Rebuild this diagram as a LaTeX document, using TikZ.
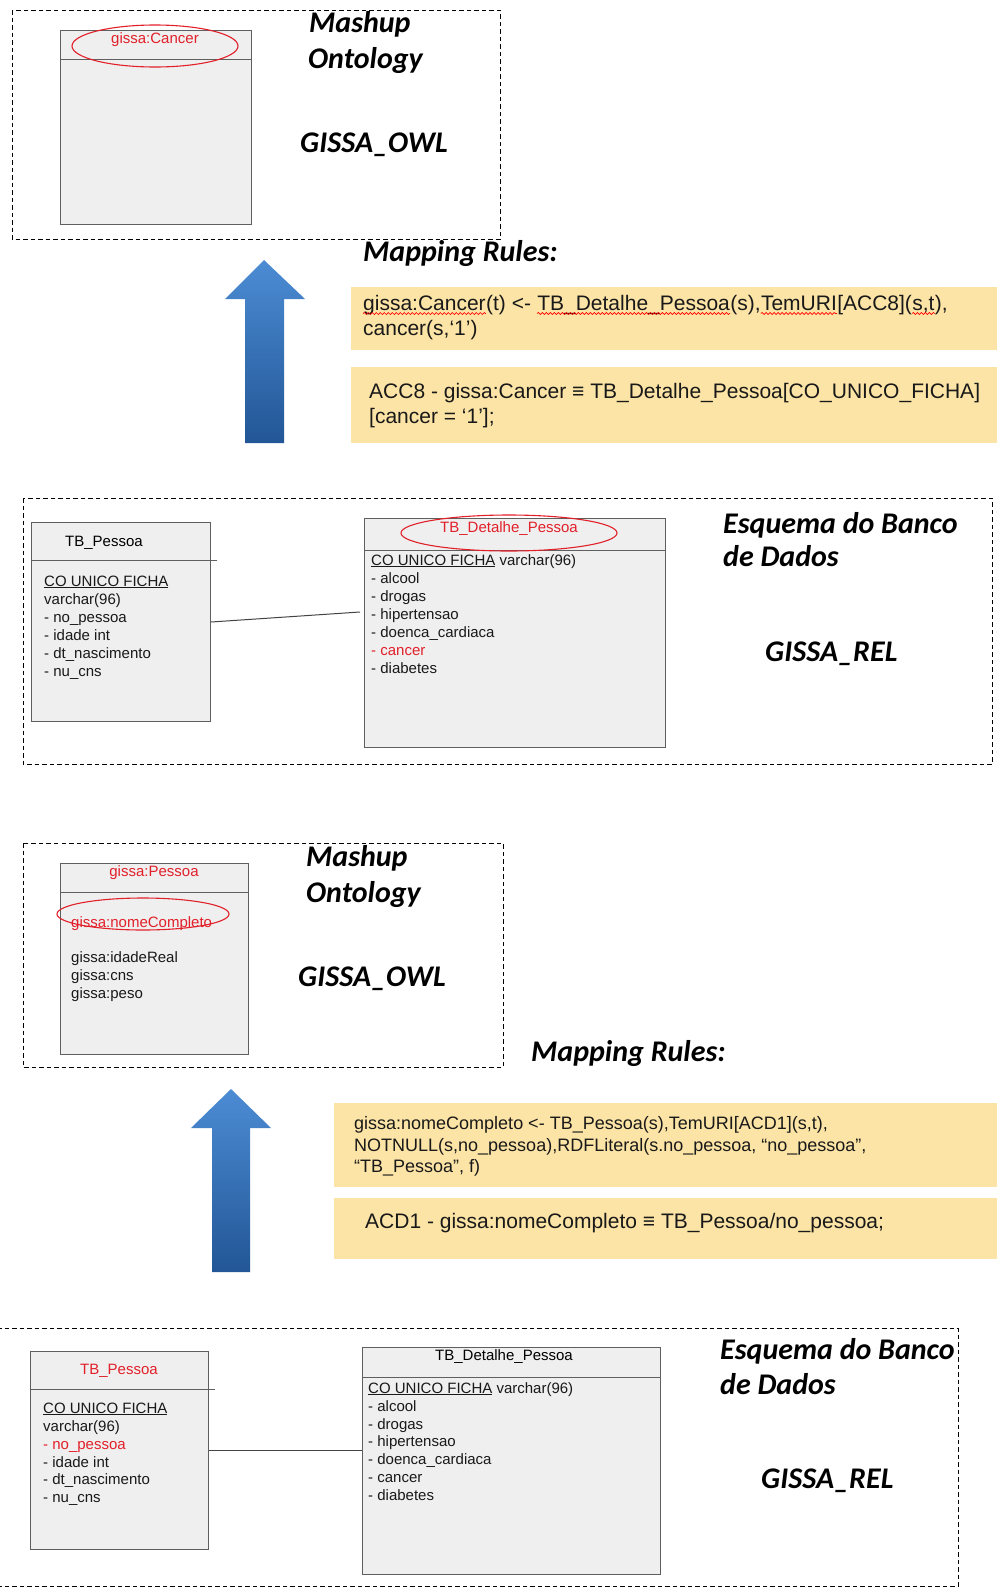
\documentclass[tikz,border=0pt]{standalone}
\usepackage{fontspec}
\setmainfont{Liberation Sans}
\newfontfamily\calfont{Carlito}
\usetikzlibrary{shapes.geometric,decorations.pathmorphing}
\definecolor{boxfill}{RGB}{239,239,239}
\definecolor{boxline}{RGB}{95,95,95}
\definecolor{redtxt}{RGB}{226,32,42}
\definecolor{ruleyellow}{RGB}{252,228,166}
\definecolor{arrtop}{RGB}{76,140,212}
\definecolor{arrbot}{RGB}{34,86,150}
\begin{document}
\begin{tikzpicture}[x=1pt,y=-1pt,
  umlbox/.style={draw=boxline, fill=boxfill, line width=1pt, inner sep=0, anchor=north west},
  sepline/.style={draw=boxline, line width=1pt},
  frame/.style={draw=black, line width=0.9pt, dash pattern=on 4.5pt off 3pt},
  redell/.style={ellipse, draw=redtxt, line width=1.1pt, inner sep=0},
  attr/.style={anchor=base west, inner sep=0, font=\fontsize{15}{18}\selectfont, text=black!90},
  ttl/.style={anchor=base, inner sep=0, font=\fontsize{15}{18}\selectfont},
  big/.style={anchor=base west, inner sep=0, font=\calfont\bfseries\itshape\fontsize{30}{36}\selectfont},
  rulea/.style={anchor=base west, inner sep=0, font=\fontsize{21}{25}\selectfont, text=black!90},
  ruleb/.style={anchor=base west, inner sep=0, font=\fontsize{18}{22}\selectfont, text=black!90},
  yellowbox/.style={fill=ruleyellow, draw=none, inner sep=0, anchor=north west},
  conn/.style={draw=boxline!70!black, line width=1pt},
  squig/.style={draw=red, line width=0.7pt, decorate, decoration={snake, amplitude=1pt, segment length=4pt}},
]
\useasboundingbox (0,0) rectangle (997,1588);

% ================= Section 1: Mashup Ontology (Cancer) =================
\draw[frame] (12,10) rectangle (500,239);
\node[umlbox, minimum width=191pt, minimum height=194pt] (o1) at (60,30) {};
\draw[sepline] (o1.west |- 0,59) -- (o1.east |- 0,59);
\node[ttl, text=redtxt] (o1t) at (155,43) {gissa:Cancer};
\node[redell, minimum width=166pt, minimum height=42pt] (o1e) at (155,46) {};
\node[big] (m1a) at (309,32) {Mashup};
\node[big] (m1b) at (308,68) {Ontology};
\node[big] (m1c) at (300,152) {GISSA\_OWL};

% Mapping rules 1
\node[big] (mr1) at (363,261) {Mapping Rules:};
\shade[top color=arrtop, bottom color=arrbot]
  (245,443) -- (245,299) -- (225,299) -- (264,260) -- (305,299) -- (284,299) -- (284,443) -- cycle;
\node[yellowbox, minimum width=646pt, minimum height=63pt] (y1) at (351,287) {};
\node[yellowbox, minimum width=646pt, minimum height=76pt] (y2) at (351,367) {};
\node[rulea] (y1a1) at (363,310) {gissa:Cancer};
\node[rulea] (y1a2) at (y1a1.base east) {(t)~<-~\null};
\node[rulea] (y1a3) at (y1a2.base east) {TB\_Detalhe\_Pessoa};
\node[rulea] (y1a4) at (y1a3.base east) {(s),};
\node[rulea] (y1a5) at (y1a4.base east) {TemURI};
\node[rulea] (y1a6) at (y1a5.base east) {[ACC8](};
\node[rulea] (y1a7) at (y1a6.base east) {s,t};
\node[rulea] (y1a8) at (y1a7.base east) {),};
\foreach \w in {y1a1,y1a3,y1a5,y1a7}
  \draw[squig] ([yshift=-3.5pt]\w.base west) -- ([yshift=-3.5pt]\w.base east);
\node[rulea] (y1b) at (363,335) {cancer(s,`1')};
\node[rulea] (y2a) at (369,398) {ACC8 - gissa:Cancer ≡ TB\_Detalhe\_Pessoa[CO\_UNICO\_FICHA]};
\node[rulea] (y2b) at (369,423) {[cancer = `1'];};

% ================= Section 2: Esquema do Banco (Cancer) =================
\draw[frame] (23,498) rectangle (992,764);
\node[umlbox, minimum width=179pt, minimum height=199pt] (p2) at (31,522) {};
\draw[sepline] (p2.west |- 0,560) -- (217,560);
\node[ttl] (p2t) at (104,546) {TB\_Pessoa};
\node[attr] (p2a1) at (44,586) {\underline{CO UNICO FICHA}};
\node[attr] (p2a2) at (44,604) {varchar(96)};
\node[attr] (p2a3) at (44,622) {- no\_pessoa};
\node[attr] (p2a4) at (44,640) {- idade int};
\node[attr] (p2a5) at (44,658) {- dt\_nascimento};
\node[attr] (p2a6) at (44,676) {- nu\_cns};

\node[umlbox, minimum width=301pt, minimum height=229pt] (d2) at (364,518) {};
\draw[sepline] (d2.west |- 0,550) -- (d2.east |- 0,550);
\node[ttl, text=redtxt] (d2t) at (509,532) {TB\_Detalhe\_Pessoa};
\node[redell, minimum width=216pt, minimum height=36pt] (d2e) at (509,533) {};
\node[attr] (d2a1) at (371,565) {\underline{CO UNICO FICHA} varchar(96)};
\node[attr] (d2a2) at (371,583) {- alcool};
\node[attr] (d2a3) at (371,601) {- drogas};
\node[attr] (d2a4) at (371,619) {- hipertensao};
\node[attr] (d2a5) at (371,637) {- doenca\_cardiaca};
\node[attr, text=redtxt] (d2a6) at (371,655) {- cancer};
\node[attr] (d2a7) at (371,673) {- diabetes};
\draw[conn] ([yshift=-100pt]p2.north east) -- ([xshift=-4pt,yshift=-94pt]d2.north west);

\node[big] (e2a) at (723,533) {Esquema do Banco};
\node[big] (e2b) at (723,566) {de Dados};
\node[big] (e2c) at (765,661) {GISSA\_REL};

% ================= Section 3: Mashup Ontology (Pessoa) =================
\draw[frame] (23,843) rectangle (503,1067);
\node[umlbox, minimum width=188pt, minimum height=191pt] (o3) at (60,863) {};
\draw[sepline] (o3.west |- 0,892) -- (o3.east |- 0,892);
\node[ttl, text=redtxt] (o3t) at (154,876) {gissa:Pessoa};
\node[attr, text=redtxt] (o3a1) at (71,927) {gissa:nomeCompleto};
\node[redell, minimum width=172pt, minimum height=32pt] (o3e) at (143,914) {};
\node[attr] (o3a2) at (71,962) {gissa:idadeReal};
\node[attr] (o3a3) at (71,980) {gissa:cns};
\node[attr] (o3a4) at (71,998) {gissa:peso};
\node[big] (m3a) at (306,866) {Mashup};
\node[big] (m3b) at (306,902) {Ontology};
\node[big] (m3c) at (298,986) {GISSA\_OWL};

% Mapping rules 2
\node[big] (mr2) at (531,1061) {Mapping Rules:};
\shade[top color=arrtop, bottom color=arrbot]
  (212,1272) -- (212,1128) -- (191,1128) -- (231,1089) -- (271,1128) -- (250,1128) -- (250,1272) -- cycle;
\node[yellowbox, minimum width=663pt, minimum height=84pt] (y3) at (334,1103) {};
\node[yellowbox, minimum width=663pt, minimum height=61pt] (y4) at (334,1198) {};
\node[ruleb] (y3a) at (354,1129) {gissa:nomeCompleto <- TB\_Pessoa(s),TemURI[ACD1](s,t),};
\node[ruleb] (y3b) at (354,1151) {NOTNULL(s,no\_pessoa),RDFLiteral(s.no\_pessoa, “no\_pessoa”,};
\node[ruleb] (y3c) at (354,1172) {“TB\_Pessoa”, f)};
\node[rulea] (y4a) at (365,1228) {ACD1 - gissa:nomeCompleto ≡ TB\_Pessoa/no\_pessoa;};

% ================= Section 4: Esquema do Banco (Pessoa) =================
\draw[frame] (-3,1328) -- (958,1328) -- (958,1586) -- (-3,1586);
\node[umlbox, minimum width=178pt, minimum height=198pt] (p4) at (30,1351) {};
\draw[sepline] (p4.west |- 0,1389) -- (215,1389);
\node[ttl, text=redtxt] (p4t) at (119,1374) {TB\_Pessoa};
\node[attr] (p4a1) at (43,1413) {\underline{CO UNICO FICHA}};
\node[attr] (p4a2) at (43,1431) {varchar(96)};
\node[attr, text=redtxt] (p4a3) at (43,1449) {- no\_pessoa};
\node[attr] (p4a4) at (43,1467) {- idade int};
\node[attr] (p4a5) at (43,1484) {- dt\_nascimento};
\node[attr] (p4a6) at (43,1502) {- nu\_cns};

\node[umlbox, minimum width=298pt, minimum height=227pt] (d4) at (362,1347) {};
\draw[sepline] (d4.west |- 0,1377) -- (d4.east |- 0,1377);
\node[ttl] (d4t) at (504,1360) {TB\_Detalhe\_Pessoa};
\node[attr] (d4a1) at (368,1393) {\underline{CO UNICO FICHA} varchar(96)};
\node[attr] (d4a2) at (368,1411) {- alcool};
\node[attr] (d4a3) at (368,1429) {- drogas};
\node[attr] (d4a4) at (368,1446) {- hipertensao};
\node[attr] (d4a5) at (368,1464) {- doenca\_cardiaca};
\node[attr] (d4a6) at (368,1482) {- cancer};
\node[attr] (d4a7) at (368,1500) {- diabetes};
\draw[conn] ([yshift=-99pt]p4.north east) -- ([yshift=-103pt]d4.north west);

\node[big] (e4a) at (720,1359) {Esquema do Banco};
\node[big] (e4b) at (720,1394) {de Dados};
\node[big] (e4c) at (761,1488) {GISSA\_REL};
\end{tikzpicture}
\end{document}
